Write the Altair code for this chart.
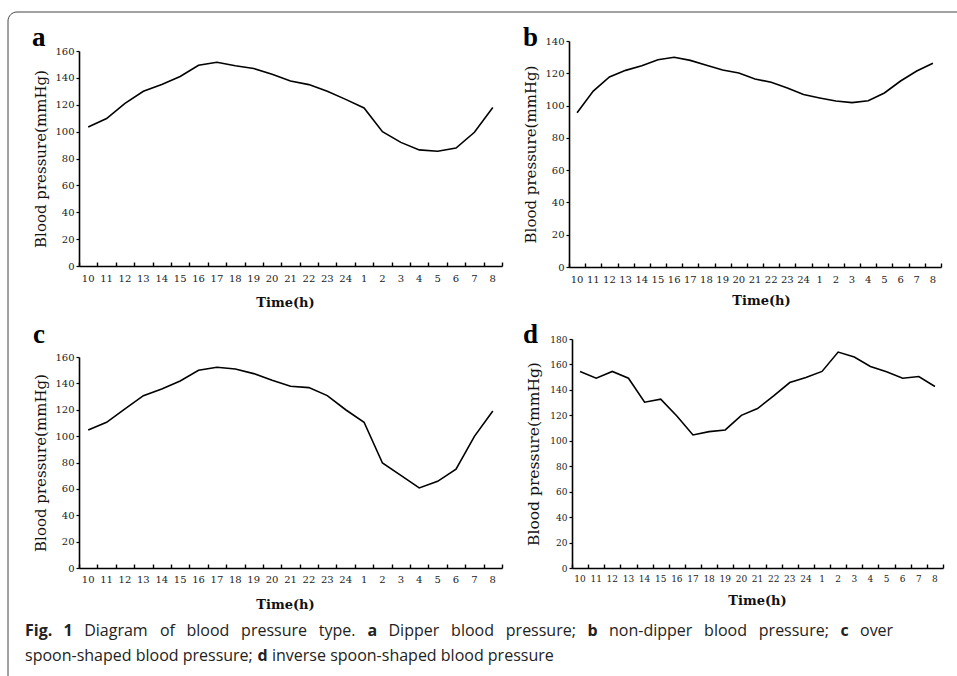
import altair as alt
import pandas as pd

# ---------------- data ----------------
hours = ["10", "11", "12", "13", "14", "15", "16", "17", "18", "19", "20", "21",
         "22", "23", "24", "1", "2", "3", "4", "5", "6", "7", "8"]

bp_dipper = [103.5, 109.7, 121, 130, 135, 141, 149.4, 151.6, 149, 147, 142.7, 137.7,
             135, 130, 124, 117.6, 100, 92, 86.4, 85.4, 87.8, 99.5, 118]
bp_nondipper = [95.6, 109, 117.7, 121.8, 124.7, 128.4, 129.9, 128, 125, 122, 120.2, 116.5,
                114.4, 110.9, 106.8, 104.7, 102.8, 101.8, 103, 107.8, 115.2, 121.4, 126.2]
bp_over = [104.6, 110.5, 120.6, 130.7, 135.7, 141.8, 149.9, 152.2, 150.9, 147.4, 142.3, 137.8,
           136.8, 130.7, 120, 110.5, 79.6, 70.3, 60.7, 65.7, 75, 99.8, 119]
bp_inverse = [154.5, 149.2, 154.5, 149.2, 130.3, 132.7, 119.5, 104.6, 107.2, 108.5, 120, 125.3,
              135.3, 145.8, 149.8, 154.5, 169.7, 165.8, 158.4, 154.2, 149.2, 150.5, 142.7]

y_max = {"a": 160, "b": 140, "c": 160, "d": 180}
y_title = "Blood pressure(mmHg)"
x_title = "Time(h)"

# caption words: (text, weight, approx width at 16px used for justified placement)
caption_line1 = [("Fig.", "bold", 27), ("1", "bold", 9), ("Diagram", "normal", 64),
                 ("of", "normal", 15), ("blood", "normal", 43), ("pressure", "normal", 66),
                 ("type.", "normal", 37), ("a", "bold", 9.5), ("Dipper", "normal", 51),
                 ("blood", "normal", 43), ("pressure;", "normal", 70), ("b", "bold", 10),
                 ("non-dipper", "normal", 83.5), ("blood", "normal", 43),
                 ("pressure;", "normal", 70), ("c", "bold", 8), ("over", "normal", 33)]
caption_line2 = [("spoon-shaped blood pressure;", "normal", 228), ("d", "bold", 10),
                 ("inverse spoon-shaped blood pressure", "normal", 282)]

# ---------------- layout ----------------
W, H = 957, 676
SERIF = "DejaVu Serif"
SANS = "Open Sans"

layout = {
    "a": dict(x0=79, x1=502, yb=266, yt=51, fs=10, tx=285, ty=36, lx=32, ly=46, lp=7, tfs=15),
    "b": dict(x0=569, x1=941, yb=267, yt=41, fs=10, tx=761, ty=33, lx=523, ly=46, lp=7, tfs=15),
    "c": dict(x0=79, x1=502, yb=568, yt=357, fs=10, tx=285, ty=36, lx=33, ly=343, lp=6, tfs=15),
    "d": dict(x0=572, x1=943, yb=568, yt=339, fs=9, tx=757, ty=32, lx=523, ly=343, lp=6, tfs=15.5),
}


def panel(values, key):
    L = layout[key]
    ymax = y_max[key]
    df = pd.DataFrame({"hour": hours, "bp": values})
    xs = alt.Scale(type="band", domain=hours, range=[L["x0"], L["x1"]],
                   paddingInner=0, paddingOuter=0)
    ys = alt.Scale(domain=[0, ymax], range=[L["yb"], L["yt"]], nice=False)
    base = alt.Chart(df)
    line = base.mark_line(color="black", strokeWidth=1.6).encode(
        x=alt.X("hour:O", scale=xs, bandPosition=0.5,
                axis=alt.Axis(orient="bottom", offset=L["yb"] - H, ticks=False, tickSize=0,
                              domain=False, grid=False, labelAngle=0, labelPadding=L["lp"],
                              labelFont=SERIF, labelFontSize=L["fs"], labelColor="#222",
                              labelOverlap=False, labelBaseline="top",
                              title=x_title, titleX=L["tx"], titleY=L["ty"],
                              titleFont=SERIF, titleFontSize=13, titleFontWeight="bold",
                              titleColor="#111", titleBaseline="middle",
                              titleAlign="center")),
        y=alt.Y("bp:Q", scale=ys,
                axis=alt.Axis(orient="left", offset=-L["x0"],
                              values=list(range(0, ymax + 1, 20)),
                              tickSize=3, tickColor="black", tickWidth=1.2,
                              domainColor="black", domainWidth=1.6, grid=False,
                              labelFont=SERIF, labelFontSize=L["fs"], labelColor="#222",
                              labelPadding=2,
                              title=y_title, titleX=-39, titleY=(L["yb"] + L["yt"]) / 2,
                              titleAngle=270, titleFont=SERIF, titleFontSize=L["tfs"],
                              titleFontWeight="normal", titleColor="#111",
                              titleBaseline="middle", titleAlign="center")),
    )
    ticks = base.mark_line(opacity=0).encode(
        x=alt.X("hour:O", scale=xs, bandPosition=0.5,
                axis=alt.Axis(orient="top", offset=-L["yb"], labels=False, tickBand="extent",
                              tickSize=4, tickColor="black", tickWidth=1.4,
                              domainColor="black", domainWidth=1.6, grid=False, title=None)))
    letter = alt.Chart(pd.DataFrame({"k": [0]})).mark_text(
        text=key, font="Liberation Serif", fontSize=27, fontWeight="bold",
        align="left", baseline="alphabetic", color="black"
    ).encode(x=alt.value(L["lx"]), y=alt.value(L["ly"]))
    return alt.layer(line, ticks, letter).resolve_axis(x="independent")


one = pd.DataFrame({"k": [0]})
frame = alt.Chart(one).mark_rect(cornerRadius=9, fill="transparent", stroke="#444",
                                 strokeWidth=1).encode(
    x=alt.value(8), x2=alt.value(W + 40), y=alt.value(12), y2=alt.value(H + 40))

# caption: line 1 is justified between x=25 and x=893, line 2 is set naturally
caption = []


def place(words, x_start, x_end, baseline, justify):
    total = sum(w for _, _, w in words)
    n_gaps = len(words) - 1
    gap = (x_end - x_start - total) / n_gaps if justify else 4.5
    x = x_start
    for txt, wt, w in words:
        caption.append(alt.Chart(one).mark_text(text=txt, font=SANS, fontSize=16, fontWeight=wt,
                                                align="left", baseline="alphabetic",
                                                color="#222")
                       .encode(x=alt.value(round(x, 1)), y=alt.value(baseline)))
        x += w + gap


place(caption_line1, 25, 893, 636, True)
place(caption_line2, 25, None, 661, False)

pa = panel(bp_dipper, "a")
pb = panel(bp_nondipper, "b")
pc = panel(bp_over, "c")
pd_ = panel(bp_inverse, "d")

chart = alt.layer(frame, pa, pb, pc, pd_, *caption).resolve_scale(
    x="independent", y="independent"
).resolve_axis(x="independent", y="independent").properties(
    width=W, height=H, autosize="none", padding=0
).configure_view(stroke=None)

chart.save("out.html", embed_options={"renderer": "svg", "actions": False})
